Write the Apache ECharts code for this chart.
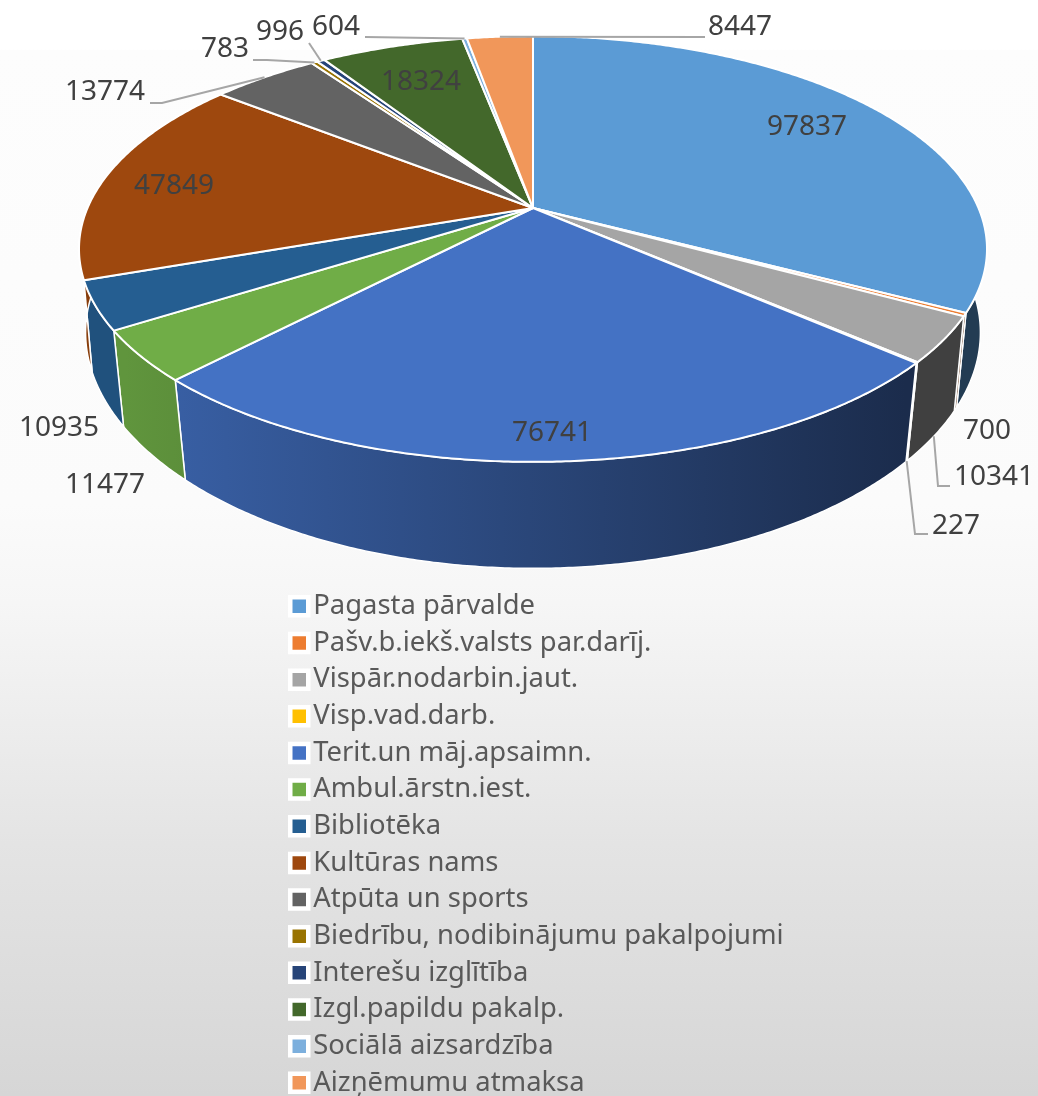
<!DOCTYPE html>
<html>
<head>
<meta charset="utf-8">
<title>Pie</title>
<script src="https://cdn.jsdelivr.net/npm/echarts@6/dist/echarts.min.js"></script>
<style>
  html, body { margin: 0; padding: 0; background: #fff; overflow: hidden; }
  #main { width: 1038px; height: 1096px; }
</style>
</head>
<body>
<div id="main"></div>
<script>
const categories = [
  "Pagasta pārvalde", "Pašv.b.iekš.valsts par.darīj.", "Vispār.nodarbin.jaut.", "Visp.vad.darb.",
  "Terit.un māj.apsaimn.", "Ambul.ārstn.iest.", "Bibliotēka", "Kultūras nams", "Atpūta un sports",
  "Biedrību, nodibinājumu pakalpojumi", "Interešu izglītība", "Izgl.papildu pakalp.",
  "Sociālā aizsardzība", "Aizņēmumu atmaksa"
];
const values = [97837, 700, 10341, 227, 76741, 11477, 10935, 47849, 13774, 783, 996, 18324, 604, 8447];
const colors = [
  "#5B9BD5", "#ED7D31", "#A5A5A5", "#FFC000", "#4472C4", "#70AD47", "#255E91",
  "#9E480E", "#636363", "#997300", "#264478", "#43682B", "#7CAFDD", "#F1975A"
];

// where each value label sits, and the elbow of its leader line if it has one
const labelSpots = [
  { x: 807, y: 127 }, { x: 987, y: 431 }, { x: 994, y: 477, via: [[950, 486], [938, 486]], base: true },
  { x: 956, y: 526, via: [[928, 534], [915, 534]], base: true }, { x: 552, y: 433 }, { x: 105, y: 485 },
  { x: 59, y: 428 }, { x: 174, y: 186 }, { x: 105, y: 92, via: [[150, 103], [162, 103]] },
  { x: 225, y: 49, via: [[253, 60], [267, 60]] }, { x: 280, y: 32, via: [[309, 43]] }, { x: 421, y: 82 },
  { x: 336, y: 27, via: [[365, 37]] }, { x: 740, y: 27, via: [[705, 37]] }
];

// pie seen in perspective: apex, radius, squash, perspective strength, wall depth and wall taper
const pie = { cx: 533, cy: 208, r: 445.5, b: 205, p: 0.1925, depth: 86, taper: 0.965, taperSlope: 0.025 };

const total = values.reduce((a, b) => a + b, 0);

function rimPoint(angle, base) {
  const u = Math.sin(angle);
  const v = -Math.cos(angle);
  const k = 1 / (1 - pie.p * v);
  let x = pie.r * u * k;
  let y = pie.b * v * k;
  if (base) {
    x *= pie.taper + pie.taperSlope * (1 - v);
    y += pie.depth * k;
  }
  return [pie.cx + x, pie.cy + y];
}

function arcPoints(a0, a1, base) {
  const steps = Math.max(2, Math.ceil((a1 - a0) / 0.008));
  const pts = [];
  for (let i = 0; i <= steps; i++) {
    pts.push(rimPoint(a0 + (a1 - a0) * i / steps, base));
  }
  return pts;
}

function shade(hex, f) {
  const n = parseInt(hex.slice(1), 16);
  const c = [(n >> 16) & 255, (n >> 8) & 255, n & 255].map(d => Math.round(d * f));
  return "rgb(" + c.join(",") + ")";
}

// walls get darker from left to right, like the light in the original
function wallFill(color) {
  return new echarts.graphic.LinearGradient(125, 0, 905, 0, [
    { offset: 0, color: shade(color, 0.86) },
    { offset: 1, color: shade(color, 0.39) }
  ], true);
}

function renderSlice(index) {
  const before = values.slice(0, index).reduce((a, b) => a + b, 0);
  return function (params, api) {
    const a0 = before / total * Math.PI * 2;
    const a1 = (before + api.value(0)) / total * Math.PI * 2;
    const mid = (a0 + a1) / 2;
    const top = arcPoints(a0, a1, false);
    const bottom = arcPoints(a0, a1, true);
    const spot = labelSpots[index];
    const children = [
      {
        type: "polygon",
        z2: 10 + index,
        shape: { points: top.concat(bottom.slice().reverse()) },
        style: { fill: wallFill(colors[index]), stroke: "#fff", lineWidth: 1.5 }
      },
      {
        type: "polygon",
        z2: 100 + index,
        shape: { points: [[pie.cx, pie.cy]].concat(top) },
        style: { fill: colors[index], stroke: "#fff", lineWidth: 2, lineJoin: "round" }
      },
      {
        type: "text",
        z2: 300,
        style: {
          text: String(api.value(0)),
          x: spot.x,
          y: spot.y,
          fill: "#404040",
          fontFamily: "Noto Sans",
          fontSize: 28,
          align: "center",
          verticalAlign: "middle"
        }
      }
    ];
    if (spot.via) {
      children.push({
        type: "polyline",
        z2: 200,
        shape: { points: spot.via.concat([rimPoint(mid, spot.base)]) },
        style: { fill: null, stroke: "#a6a6a6", lineWidth: 2 }
      });
    }
    return { type: "group", children: children };
  };
}

const chart = echarts.init(document.getElementById("main"));
chart.setOption({
  animation: false,
  backgroundColor: new echarts.graphic.LinearGradient(0, 0, 0, 1, [
    { offset: 0, color: "#ffffff" },
    { offset: 0.045, color: "#ffffff" },
    { offset: 0.046, color: "#fdfdfd" },
    { offset: 0.46, color: "#fbfbfb" },
    { offset: 0.55, color: "#f6f6f6" },
    { offset: 0.77, color: "#e4e4e4" },
    { offset: 1, color: "#d6d6d6" }
  ]),
  legend: {
    orient: "vertical",
    left: 288,
    top: 588,
    height: 700,
    padding: 0,
    itemWidth: 18,
    itemHeight: 18,
    itemGap: 0,
    icon: "rect",
    selectedMode: false,
    itemStyle: { borderColor: "#fff", borderWidth: 4.5 },
    textStyle: { color: "#595959", fontFamily: "Noto Sans", fontSize: 27.4, lineHeight: 36.65 },
    data: categories
  },
  series: categories.map((name, i) => ({
    type: "custom",
    name: name,
    coordinateSystem: "none",
    itemStyle: { color: colors[i] },
    renderItem: renderSlice(i),
    data: [[values[i]]]
  }))
});
</script>
</body>
</html>
